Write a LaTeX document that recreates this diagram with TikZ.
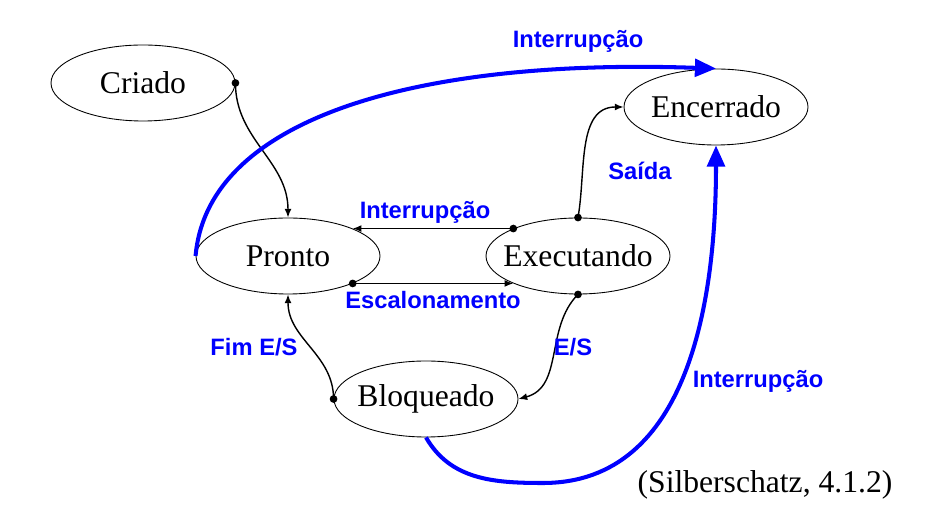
\documentclass[tikz,border=0pt]{standalone}
\usepackage{fontspec}
\setmainfont{Liberation Serif}
\newfontfamily\rotulofont{Liberation Sans}
\usetikzlibrary{shapes.geometric,arrows.meta}

\begin{document}
\begin{tikzpicture}[
	estado/.style={shape=ellipse,draw=black,line width=0.5pt,minimum width=3.68cm,minimum height=1.52cm,inner xsep=-12pt,inner ysep=0pt,font=\fontsize{18}{20}\selectfont},
	trans/.style={-{Latex[length=5pt,width=4pt]},line width=0.8pt},
	intr/.style={-{Triangle[length=12pt,width=10pt]},blue,line width=2.3pt},
	rotulo/.style={text=blue,font=\rotulofont\bfseries\fontsize{13.5}{15}\selectfont}
	]
	\useasboundingbox (0,0) rectangle (18.94,10.6);
	
	\node[estado] (Criado) at (2.86, 8.94)     {Criado};
	\node[estado] (Encerrado) at (14.32, 8.46) {Encerrado};
	\node[estado] (Pronto) at (5.76, 5.48)     {Pronto};
	\node[estado] (Executando) at (11.56, 5.48) {Executando};
	\node[estado] (Bloqueado) at (8.52, 2.62)  {Bloqueado};
	
	\path[trans] (Criado.east) edge[out=-90,in=90] (Pronto.north);
	\path[trans] (Executando.157) edge (Pronto.23);
	\path[trans] (Pronto.-23) edge (Executando.-157);
	\path[trans] (Executando.north) edge[out=80,in=180] (Encerrado.west);
	\path[trans] (Executando.south) edge[out=-135,in=15] (Bloqueado.east);
	\path[trans] (Bloqueado.west) edge[out=90,in=-90] (Pronto.south);
	
	\fill (Criado.east) circle (2.2pt);
	\fill (Executando.157) circle (2.2pt);
	\fill (Pronto.-23) circle (2.2pt);
	\fill (Executando.north) circle (2.2pt);
	\fill (Executando.south) circle (2.2pt);
	\fill (Bloqueado.west) circle (2.2pt);
	
	\coordinate (fundo) at (10.86, 0.94);
	\draw[intr] (Pronto.west) to[out=85,in=178,out distance=2.8cm,in distance=5.9cm] (Encerrado.north);
	\draw[intr] (Bloqueado.south) to[out=-60,in=180] (fundo) to[out=0,in=-90] (Encerrado.south);
	
	\node[rotulo] (lInterrTopo) at (11.56, 9.78) {Interrupção};
	\node[rotulo] (lInterrMeio) at (8.5, 6.36)   {Interrupção};
	\node[rotulo] (lEscal) at (8.66, 4.6)        {Escalonamento};
	\node[rotulo] (lSaida) at (12.8, 7.18)       {Saída};
	\node[rotulo] (lES) at (11.46, 3.66)         {E/S};
	\node[rotulo] (lFimES) at (5.08, 3.66)       {Fim E/S};
	\node[rotulo] (lInterrDir) at (15.16, 2.98)  {Interrupção};
	
	\node[font=\fontsize{18}{20}\selectfont] (fonte) at (15.3, 0.9) {(Silberschatz, 4.1.2)};
	
\end{tikzpicture}
\end{document}
